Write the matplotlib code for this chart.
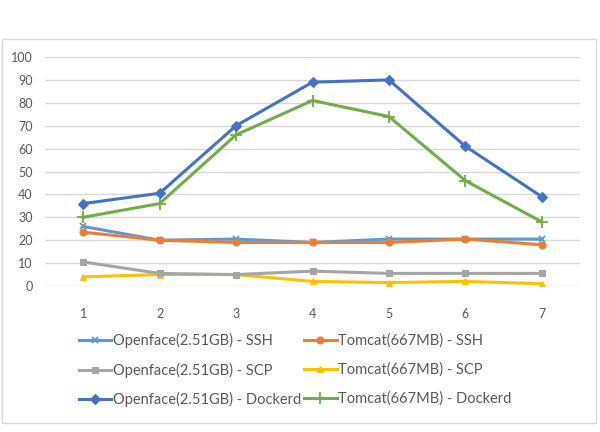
import matplotlib
matplotlib.use("Agg")
import matplotlib.pyplot as plt
from matplotlib.patches import Rectangle

x = [1, 2, 3, 4, 5, 6, 7]
openface_ssh = [26, 20, 20.5, 19, 20.5, 20.5, 20.5]
tomcat_ssh = [23.5, 20, 19, 19, 19, 20.5, 18]
openface_scp = [10.5, 5.5, 5, 6.5, 5.5, 5.5, 5.5]
tomcat_scp = [4, 5, 5, 2, 1.5, 2, 1]
openface_dock = [36, 40.5, 70, 89, 90, 61, 39]
tomcat_dock = [30, 36, 66, 81, 74, 46, 28]
yticks = [0, 10, 20, 30, 40, 50, 60, 70, 80, 90, 100]

plt.rcParams['font.family'] = ['Lato', 'DejaVu Sans']

fig = plt.figure(figsize=(6, 4.32), dpi=100)
fig.patches.append(Rectangle((2/600, 1-423/432), 594/600, 384/432, transform=fig.transFigure,
                             fill=False, edgecolor='#D9D9D9', linewidth=1.0, zorder=0))
ax = fig.add_axes([45/600, 1-286/432, 535/600, 229/432])

series = [
    (openface_ssh, 'Openface(2.51GB) - SSH', '#5B9BD5', 'x', 5),
    (openface_scp, 'Openface(2.51GB) - SCP', '#A5A5A5', 's', 5),
    (openface_dock, 'Openface(2.51GB) - Dockerd', '#4472C4', 'D', 5),
    (tomcat_ssh, 'Tomcat(667MB) - SSH', '#ED7D31', 'o', 5),
    (tomcat_scp, 'Tomcat(667MB) - SCP', '#FFC000', '^', 5),
    (tomcat_dock, 'Tomcat(667MB) - Dockerd', '#70AD47', '+', 8),
]
order_z = [3, 2, 6, 4, 1, 5]
handles = []
for (vals, lab, col, mk, ms), z in zip(series, order_z):
    h, = ax.plot(x, vals, color=col, marker=mk, markersize=ms, linewidth=2.2,
                 label=lab, zorder=z + 2, markeredgewidth=1.3 if mk in 'x+' else 0.8)
    handles.append(h)

ax.set_xlim(0.5, 7.5)
ax.set_ylim(0, 100)
ax.set_yticks(yticks)
ax.set_xticks(x)
ax.grid(axis='y', color='#D9D9D9', linewidth=1.0)
ax.set_axisbelow(True)
for s in ax.spines.values():
    s.set_visible(False)
ax.tick_params(length=0, labelsize=9, colors='#595959')
ax.tick_params(axis='x', pad=16)
ax.tick_params(axis='y', pad=9)

leg = fig.legend(handles=handles, loc='upper left', bbox_to_anchor=(79/600, 1-333/432),
                 ncol=2, frameon=False, fontsize=10.5, labelcolor='#595959',
                 handlelength=2.2, handletextpad=0.1, labelspacing=1.0, columnspacing=0.25,
                 borderaxespad=0, borderpad=0)

fig.savefig('out.png', dpi=100)
